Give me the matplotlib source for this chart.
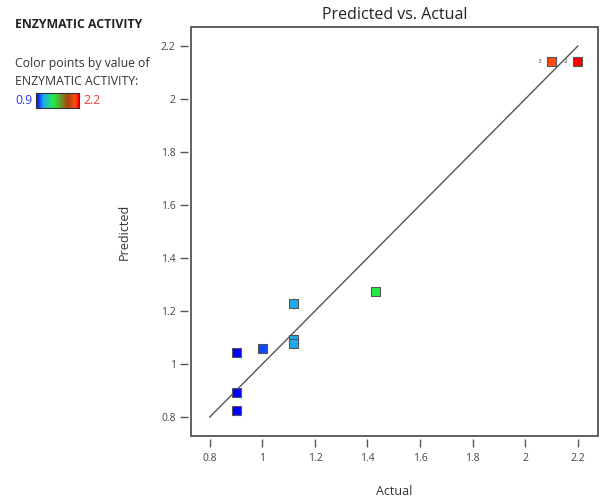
import matplotlib.pyplot as plt
from matplotlib.colors import LinearSegmentedColormap
from matplotlib.patches import Rectangle
import numpy as np

plt.rcParams['font.family'] = ['Open Sans', 'DejaVu Sans']

actual = [0.9, 1.0, 0.9, 0.9, 1.12, 1.12, 1.12, 1.43, 2.1, 2.2]
predicted = [1.042, 1.057, 0.891, 0.826, 1.230, 1.094, 1.079, 1.272, 2.140, 2.140]
point_labels = {8: "3", 9: "2"}
ticks = [0.8, 1, 1.2, 1.4, 1.6, 1.8, 2, 2.2]
tick_labels = ["0.8", "1", "1.2", "1.4", "1.6", "1.8", "2", "2.2"]
vmin, vmax = 0.9, 2.2

cmap = LinearSegmentedColormap.from_list(
    "da", [(0, "#0000ff"), (0.17, "#20aaf0"), (0.41, "#20ee40"),
           (0.75, "#b04010"), (0.92, "#ff5010"), (1, "#ff0000")])

fig = plt.figure(figsize=(6.02, 4.99), dpi=100)
ax = fig.add_axes([0.317, 0.126, 0.676, 0.820])

ax.plot([0.8, 2.2], [0.8, 2.2], color="#555555", lw=1.0, zorder=2)
ax.scatter(actual, predicted, c=actual, cmap=cmap, vmin=vmin, vmax=vmax,
           marker="s", s=42, edgecolors="#555555", linewidths=0.8, zorder=3)
for i, lab in point_labels.items():
    ax.annotate(lab, (actual[i], predicted[i]), xytext=(-9, 0),
                textcoords="offset points", fontsize=4.5, color="#444444",
                ha="center", va="center")

ax.set_xlim(0.728, 2.276)
ax.set_ylim(0.728, 2.272)
ax.set_xticks(ticks)
ax.set_xticklabels(tick_labels)
ax.set_yticks(ticks)
ax.set_yticklabels(tick_labels)

for side in ["bottom", "left"]:
    ax.spines[side].set_position(("outward", 2))
for sp in ax.spines.values():
    sp.set_color("none")
ax.add_patch(Rectangle((0, 0), 1, 1, transform=ax.transAxes, fill=False,
                       edgecolor="#555555", lw=1.3, clip_on=False, zorder=5))
ax.tick_params(direction="out", length=6, width=1, color="#555555",
               labelsize=7.5, labelcolor="#444444")
ax.tick_params(axis="x", pad=4)
ax.tick_params(axis="y", pad=3)

ax.set_title("Predicted vs. Actual", fontsize=11.5, color="#222222", pad=6)
ax.set_xlabel("Actual", fontsize=9, color="#333333", labelpad=15)
ax.set_ylabel("Predicted", fontsize=9, color="#333333", labelpad=22)

# legend block
fig.text(15 / 602, 1 - 24 / 499, "ENZYMATIC ACTIVITY", fontsize=8.8,
         fontweight="bold", color="#222222", va="center")
fig.text(15 / 602, 1 - 63 / 499, "Color points by value of", fontsize=8.8,
         color="#333333", va="center")
fig.text(15 / 602, 1 - 82 / 499, "ENZYMATIC ACTIVITY:", fontsize=8.8,
         color="#333333", va="center")
fig.text(15 / 602, 1 - 101 / 499, "0.9", fontsize=8.8, color="#3333ff", va="center")
fig.text(83 / 602, 1 - 101 / 499, "2.2", fontsize=8.8, color="#ff3333", va="center")
cax = fig.add_axes([36 / 602, 1 - 108 / 499, 43 / 602, 15 / 499])
cax.imshow(np.linspace(0, 1, 100)[None, :], cmap=cmap, aspect="auto")
cax.set_xticks([])
cax.set_yticks([])
for sp in cax.spines.values():
    sp.set_color("#333333")
    sp.set_linewidth(0.8)

fig.savefig("out.png", dpi=100)
